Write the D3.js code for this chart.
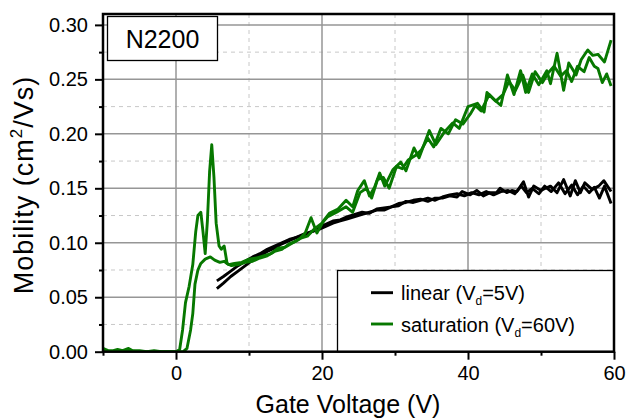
<!DOCTYPE html>
<html><head><meta charset="utf-8">
<script src="https://cdn.jsdelivr.net/npm/d3@7/dist/d3.min.js"></script>
<style>
body{margin:0;background:#fff}
svg{display:block}
text{font-family:"Liberation Sans",Arial,Helvetica,sans-serif;fill:#000}
</style>
</head><body>
<svg id="chart" width="626" height="419"></svg>
<script>
// ---- tick values ----
const xTicks = [0, 20, 40, 60];
const xMinor = [-10, 10, 30, 50];
const yTicks = [0, 0.05, 0.10, 0.15, 0.20, 0.25, 0.30];
const yMinor = [0.025, 0.075, 0.125, 0.175, 0.225, 0.275];

// ---- saturation, sweep A (spiky onset, ends high) ----
const satA_V = [-10,-9.3,-8.6,-8,-7.3,-6.5,-6,-5,-4,-3,-2,-1,0,0.5,0.9,1.3,1.8,2.3,2.7,3.0,3.4,3.7,4.0,4.3,4.6,4.9,5.2,5.5,5.9,6.2,6.6,7.0,7.6,8.5,9.5,10.5,11.5,12.5,13.5,14.5,15.5,16.3,17.0,17.7,18.5,19.3,20.2,21.0,22.2,23.3,24.2,24.9,25.8,26.5,27.2,27.9,28.6,29.7,30.8,31.5,32.6,33.3,34.7,35.6,36.8,37.9,38.8,40.0,41.3,42.2,42.6,43.5,44.5,45.4,46.3,47.2,47.9,48.8,49.7,50.8,51.3,52.2,53.1,53.8,54.8,55.5,56.4,57.1,57.8,58.7,59.6];
const satA_mu = [0.003,0.001,0.001,0.002,0.001,0.003,0.001,0.001,0.000,0.001,0.000,0.000,0.000,0.002,0.020,0.045,0.060,0.080,0.110,0.125,0.128,0.110,0.090,0.120,0.165,0.190,0.160,0.118,0.097,0.094,0.097,0.081,0.079,0.080,0.082,0.083,0.086,0.088,0.092,0.094,0.099,0.101,0.104,0.109,0.123,0.109,0.120,0.127,0.131,0.139,0.133,0.148,0.157,0.143,0.151,0.164,0.152,0.167,0.174,0.166,0.187,0.178,0.203,0.190,0.202,0.210,0.205,0.225,0.228,0.220,0.238,0.232,0.226,0.254,0.236,0.258,0.238,0.255,0.245,0.258,0.246,0.274,0.240,0.265,0.254,0.268,0.277,0.272,0.273,0.266,0.286];

// ---- saturation, sweep B (smooth onset, ends low) ----
const satB_V = [-10,-9,-7,-5,-3,-1,0,1.0,1.5,2.0,2.3,2.6,3.0,3.4,4.0,4.7,5.3,6.0,6.6,7.2,8,9,10,11,12,13,14,15,16,17,18,19,20,20.8,22,23.3,24.2,25.2,26.1,26.8,27.6,28.4,29.2,30.2,31.0,31.8,32.8,33.6,34.5,35.3,36.3,37.3,38.3,39.3,40.3,41.0,41.8,42.9,43.8,44.8,45.6,46.5,47.5,48.3,49.2,50.2,51.0,51.8,52.7,53.5,54.2,55.0,55.9,56.6,57.3,57.8,58.4,59.0,59.6];
const satB_mu = [0.001,0.000,0.001,0.000,0.000,0.000,0.000,0.000,0.003,0.020,0.035,0.062,0.075,0.081,0.085,0.087,0.084,0.082,0.083,0.080,0.081,0.082,0.085,0.086,0.088,0.090,0.095,0.096,0.100,0.104,0.106,0.113,0.118,0.124,0.128,0.133,0.128,0.146,0.150,0.141,0.158,0.160,0.150,0.170,0.168,0.176,0.180,0.185,0.196,0.188,0.205,0.200,0.213,0.209,0.218,0.226,0.221,0.236,0.230,0.236,0.248,0.240,0.254,0.238,0.257,0.247,0.256,0.262,0.253,0.258,0.248,0.262,0.257,0.270,0.262,0.260,0.247,0.255,0.244];

// ---- linear, sweep A ----
const linA_V = [5.6,6.5,7.5,8.5,9.5,10.5,11.5,12.5,13.5,14.5,15.5,16.5,17.5,18.5,19.5,20.5,21.5,22.5,23.5,24.5,25.5,26.5,27.5,28.5,29.5,30.5,31.5,32.5,33.5,34.5,35.5,36.5,37.5,38.5,39.2,40.3,41.2,42.1,43.0,43.9,44.4,45.3,46.0,46.7,47.6,48.3,49.0,50.0,50.6,51.3,52.2,53.1,54.0,54.7,55.4,56.0,57.0,57.9,58.6,59.6];
const linA_mu = [0.065,0.069,0.074,0.079,0.083,0.087,0.090,0.094,0.097,0.100,0.103,0.105,0.108,0.110,0.113,0.117,0.120,0.121,0.124,0.126,0.128,0.127,0.131,0.132,0.133,0.136,0.137,0.139,0.140,0.138,0.141,0.141,0.143,0.142,0.147,0.144,0.148,0.143,0.146,0.146,0.150,0.146,0.148,0.147,0.156,0.142,0.152,0.148,0.150,0.152,0.146,0.158,0.143,0.157,0.146,0.155,0.149,0.152,0.157,0.147];

// ---- linear, sweep B ----
const linB_V = [5.6,6.5,7.5,8.5,9.5,10.5,11.5,12.5,13.5,14.5,15.5,16.5,17.5,18.5,19.5,20.5,21.5,22.5,23.5,24.5,25.5,26.5,27.5,28.5,29.5,30.5,31.5,32.5,33.5,34.5,35.5,36.5,37.5,38.5,39.5,40.5,41.5,42.5,43.5,44.5,45.5,46.4,47.3,48.0,48.8,49.7,50.5,51.4,52.4,53.3,54.2,55.0,55.8,56.6,57.3,58.0,58.7,59.6];
const linB_mu = [0.058,0.063,0.069,0.074,0.079,0.084,0.088,0.092,0.095,0.099,0.102,0.105,0.107,0.110,0.112,0.115,0.118,0.120,0.122,0.124,0.126,0.128,0.130,0.130,0.133,0.134,0.138,0.137,0.139,0.141,0.139,0.142,0.144,0.145,0.143,0.146,0.144,0.147,0.144,0.147,0.148,0.145,0.152,0.146,0.150,0.145,0.152,0.147,0.155,0.145,0.153,0.144,0.152,0.146,0.151,0.141,0.152,0.136];

const GREEN = "#077800";
const series = [
  {V: linA_V, mu: linA_mu, color: "#000000"},
  {V: linB_V, mu: linB_mu, color: "#000000"},
  {V: satB_V, mu: satB_mu, color: GREEN},
  {V: satA_V, mu: satA_mu, color: GREEN}
];

const svg = d3.select("#chart");
const L = 103, R = 614, T = 14, B = 351.7;
const x = d3.scaleLinear().domain([-10, 60]).range([L, R]);
const y = d3.scaleLinear().domain([0, 0.31]).range([B, T]);

// grid
const grid = svg.append("g");
grid.selectAll(".gxm").data(xMinor.filter(v => v > -10)).enter().append("line")
  .attr("x1", d => x(d)).attr("x2", d => x(d)).attr("y1", T).attr("y2", B)
  .attr("stroke", "#c8c8c8").attr("stroke-width", 1).attr("stroke-dasharray", "4,4");
grid.selectAll(".gym").data(yMinor).enter().append("line")
  .attr("x1", L).attr("x2", R).attr("y1", d => y(d)).attr("y2", d => y(d))
  .attr("stroke", "#c8c8c8").attr("stroke-width", 1).attr("stroke-dasharray", "4,4");
grid.selectAll(".gx").data(xTicks.filter(v => v < 60)).enter().append("line")
  .attr("x1", d => x(d)).attr("x2", d => x(d)).attr("y1", T).attr("y2", B)
  .attr("stroke", "#969696").attr("stroke-width", 1.5);
grid.selectAll(".gy").data(yTicks.filter(v => v > 0)).enter().append("line")
  .attr("x1", L).attr("x2", R).attr("y1", d => y(d)).attr("y2", d => y(d))
  .attr("stroke", "#969696").attr("stroke-width", 1.5);

// curves
svg.append("clipPath").attr("id", "clip").append("rect")
  .attr("x", L).attr("y", T).attr("width", R - L).attr("height", B - T);
const line = d3.line().x(d => x(d[0])).y(d => y(d[1]));
const cg = svg.append("g").attr("clip-path", "url(#clip)");
series.forEach(s => {
  const pts = s.V.map((v, i) => [v, s.mu[i]]);
  cg.append("path").datum(pts).attr("d", line)
    .attr("fill", "none").attr("stroke", s.color).attr("stroke-width", 2.9)
    .attr("stroke-linejoin", "round");
});

// N2200 label box
svg.append("rect").attr("x", 107.5).attr("y", 16.5).attr("width", 110).attr("height", 44)
  .attr("fill", "#fff").attr("stroke", "#000").attr("stroke-width", 1.3);
svg.append("text").attr("x", 162.5).attr("y", 48).attr("text-anchor", "middle")
  .attr("font-size", 25).text("N2200");

// legend
const lg = svg.append("g");
lg.append("rect").attr("x", 337.5).attr("y", 270.5).attr("width", R - 337.5).attr("height", B - 270.5)
  .attr("fill", "#fff").attr("stroke", "#000").attr("stroke-width", 1.3);
const legendItems = [
  {color: "#000000", y: 292.7, pre: "linear (V", sub: "d", post: "=5V)"},
  {color: GREEN, y: 324, pre: "saturation (V", sub: "d", post: "=60V)"}
];
legendItems.forEach(it => {
  lg.append("line").attr("x1", 371).attr("x2", 393).attr("y1", it.y).attr("y2", it.y)
    .attr("stroke", it.color).attr("stroke-width", 2.9);
  const t = lg.append("text").attr("x", 401).attr("y", it.y + 7.5).attr("font-size", 20);
  t.append("tspan").text(it.pre);
  t.append("tspan").attr("font-size", 12).attr("dy", 5).text(it.sub);
  t.append("tspan").attr("dy", -5).text(it.post);
});

// axes
const xAxis = d3.axisBottom(x).tickValues(xTicks).tickSize(8).tickSizeOuter(0).tickPadding(6)
  .tickFormat(d3.format("d"));
const gx = svg.append("g").attr("transform", `translate(0,${B})`).call(xAxis);
gx.select(".domain").remove();
gx.selectAll("line").attr("stroke", "#000").attr("stroke-width", 2);
gx.selectAll("text").attr("font-size", 20).attr("font-family", "Liberation Sans, Arial, sans-serif");
const gxm = svg.append("g").attr("transform", `translate(0,${B})`)
  .call(d3.axisBottom(x).tickValues(xMinor).tickSize(4).tickSizeOuter(0).tickFormat(""));
gxm.select(".domain").remove();
gxm.selectAll("line").attr("stroke", "#000").attr("stroke-width", 2);

const yAxis = d3.axisLeft(y).tickValues(yTicks).tickSize(8).tickSizeOuter(0).tickPadding(7)
  .tickFormat(d3.format(".2f"));
const gy = svg.append("g").attr("transform", `translate(${L},0)`).call(yAxis);
gy.select(".domain").remove();
gy.selectAll("line").attr("stroke", "#000").attr("stroke-width", 2);
gy.selectAll("text").attr("font-size", 20).attr("font-family", "Liberation Sans, Arial, sans-serif");
const gym = svg.append("g").attr("transform", `translate(${L},0)`)
  .call(d3.axisLeft(y).tickValues(yMinor).tickSize(4).tickSizeOuter(0).tickFormat(""));
gym.select(".domain").remove();
gym.selectAll("line").attr("stroke", "#000").attr("stroke-width", 2);

// frame
svg.append("rect").attr("x", L).attr("y", T).attr("width", R - L).attr("height", B - T)
  .attr("fill", "none").attr("stroke", "#000").attr("stroke-width", 2.5);

// axis titles
svg.append("text").attr("x", 348).attr("y", 413).attr("text-anchor", "middle")
  .attr("font-size", 25).text("Gate Voltage (V)");
const yt = svg.append("text").attr("transform", "translate(33,185) rotate(-90)")
  .attr("text-anchor", "middle").attr("font-size", 27).attr("letter-spacing", 1);
yt.append("tspan").text("Mobility (cm");
yt.append("tspan").attr("font-size", 17).attr("dy", -11).text("2");
yt.append("tspan").attr("dy", 11).text("/Vs)");
</script>
</body></html>
